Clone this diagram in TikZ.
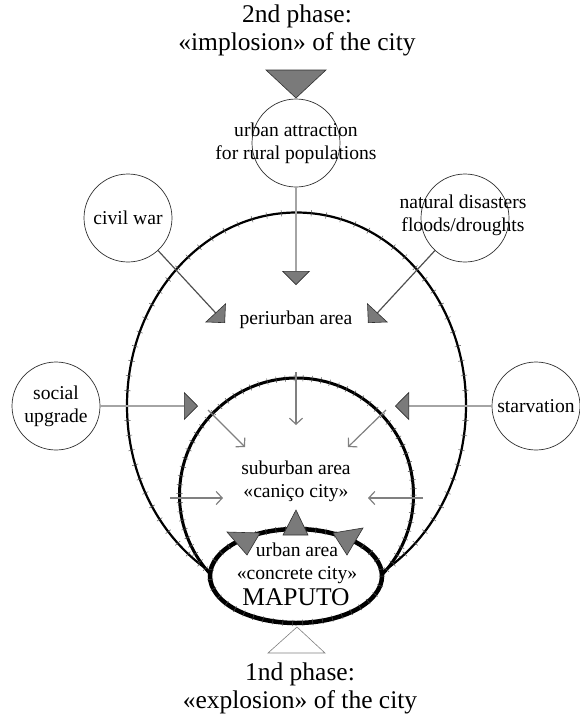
\documentclass[tikz,border=0pt]{standalone}
\usepackage{fontspec}
\setmainfont{Liberation Serif}
\usetikzlibrary{arrows.meta,decorations.pathreplacing,positioning}

\definecolor{tipgray}{HTML}{7A7A7A}
\definecolor{linegray}{HTML}{A4A4A4}
\definecolor{darkline}{HTML}{505050}
\definecolor{edgegray}{HTML}{303030}

\tikzset{
  cause/.style={circle, draw=edgegray, line width=0.7pt, minimum size=88pt, inner sep=0pt},
  lbl/.style={align=center, inner sep=0pt, font=\fontsize{19.6}{23}\selectfont},
  big/.style={align=center, inner sep=0pt, font=\fontsize{25.5}{28}\selectfont},
  push/.style={draw=#1, -{Triangle[width=28pt,length=14pt,fill=tipgray,color=edgegray,line width=0.6pt]}},
  flow/.style={draw=gray, line width=1.2pt, -{Straight Barb[length=6pt,width=13pt,line width=1.2pt]}},
  tri/.style={fill=tipgray, draw=edgegray, line width=0.6pt, line join=miter},
  hairy/.style={decorate, decoration={ticks, segment length=#1, amplitude=3.2pt}, line width=0.5pt, draw=darkline},
}

\begin{document}
\begin{tikzpicture}[x=1pt,y=-1pt]
  \useasboundingbox (0,0) rectangle (579,715);

  \node[big] (phasetwo) at (297,30) {2nd phase:\\«implosion» of the city};
  \coordinate (implo) at (296,98);
  \draw[tri] (implo) -- ++(-30,-28) -- ++(60,0) -- cycle;

  \draw[line width=2.2pt] (296.5,405.5) ellipse [x radius=169.5, y radius=193];
  \draw[hairy=15pt] (296.5,405.5) ellipse [x radius=169.5, y radius=193];
  \draw[line width=3pt] (296.5,495) circle [radius=117];
  \draw[hairy=9pt] (296.5,495) circle [radius=117];

  \node[cause] (attract) at (296,143) {};
  \node[lbl] (attracttext) at (attract) {urban attraction\\for rural populations};
  \node[cause] (war) at (128,218) {};
  \node[lbl] (wartext) at (war) {civil war};
  \node[cause] (disaster) at (465,218) {};
  \node[lbl] (disastertext) at (463,215) {natural disasters\\floods/droughts};
  \node[cause] (upgrade) at (56,406) {};
  \node[lbl] (upgradetext) at (upgrade) {social\\upgrade};
  \node[cause] (hunger) at (536,406) {};
  \node[lbl] (hungertext) at (hunger) {starvation};

  \node[lbl] (peri) at (296,320) {periurban area};
  \node[lbl] (sub) at (296,481) {suburban area\\«caniço city»};

  \coordinate (peritop) at (296,285);
  \coordinate (periwest) at (225,323);
  \coordinate (perieast) at (368,323);
  \coordinate (subwest) at (198,406);
  \coordinate (subeast) at (395,406);

  \draw[push=linegray, line width=2pt] (attract) -- (peritop);
  \draw[push=darkline, line width=1.2pt] (war) -- (periwest);
  \draw[push=darkline, line width=1.2pt] (disaster) -- (perieast);
  \draw[push=linegray, line width=2pt] (upgrade) -- (subwest);
  \draw[push=linegray, line width=2pt] (hunger) -- (subeast);

  \coordinate (dropnw) at (208,410);
  \coordinate (landnw) at (245,447);
  \coordinate (dropne) at (386,410);
  \coordinate (landne) at (348,447);
  \coordinate (dropn) at (296,372);
  \coordinate (landn) at (296,425);
  \coordinate (dropw) at (170,498);
  \coordinate (landw) at (223,498);
  \coordinate (drope) at (423,498);
  \coordinate (lande) at (368,498);
  \draw[flow] (dropnw) -- (landnw);
  \draw[flow] (dropne) -- (landne);
  \draw[flow] (dropn) -- (landn);
  \draw[flow] (dropw) -- (landw);
  \draw[flow] (drope) -- (lande);

  \draw[line width=4.5pt, fill=white] (296,576) ellipse [x radius=86, y radius=47];
  \draw[hairy=10pt] (296,576) ellipse [x radius=86, y radius=47];
  \draw[tri] (296,510) -- (308,535) -- (283,535) -- cycle;
  \draw[tri] (227,532) -- (260,533) -- (247,555) -- cycle;
  \draw[tri] (333,533) -- (363,528) -- (347,555) -- cycle;

  \node[lbl] (urb) at (297,563) {urban area\\«concrete city»};
  \node[big] (maputo) at (296,597) {MAPUTO};

  \coordinate (explo) at (297,627);
  \draw[tri, fill=white, draw=gray] (explo) -- ++(28,26) -- ++(-57,0) -- cycle;
  \node[big] (phaseone) at (300,688) {1nd phase:\\«explosion» of the city};
\end{tikzpicture}
\end{document}
